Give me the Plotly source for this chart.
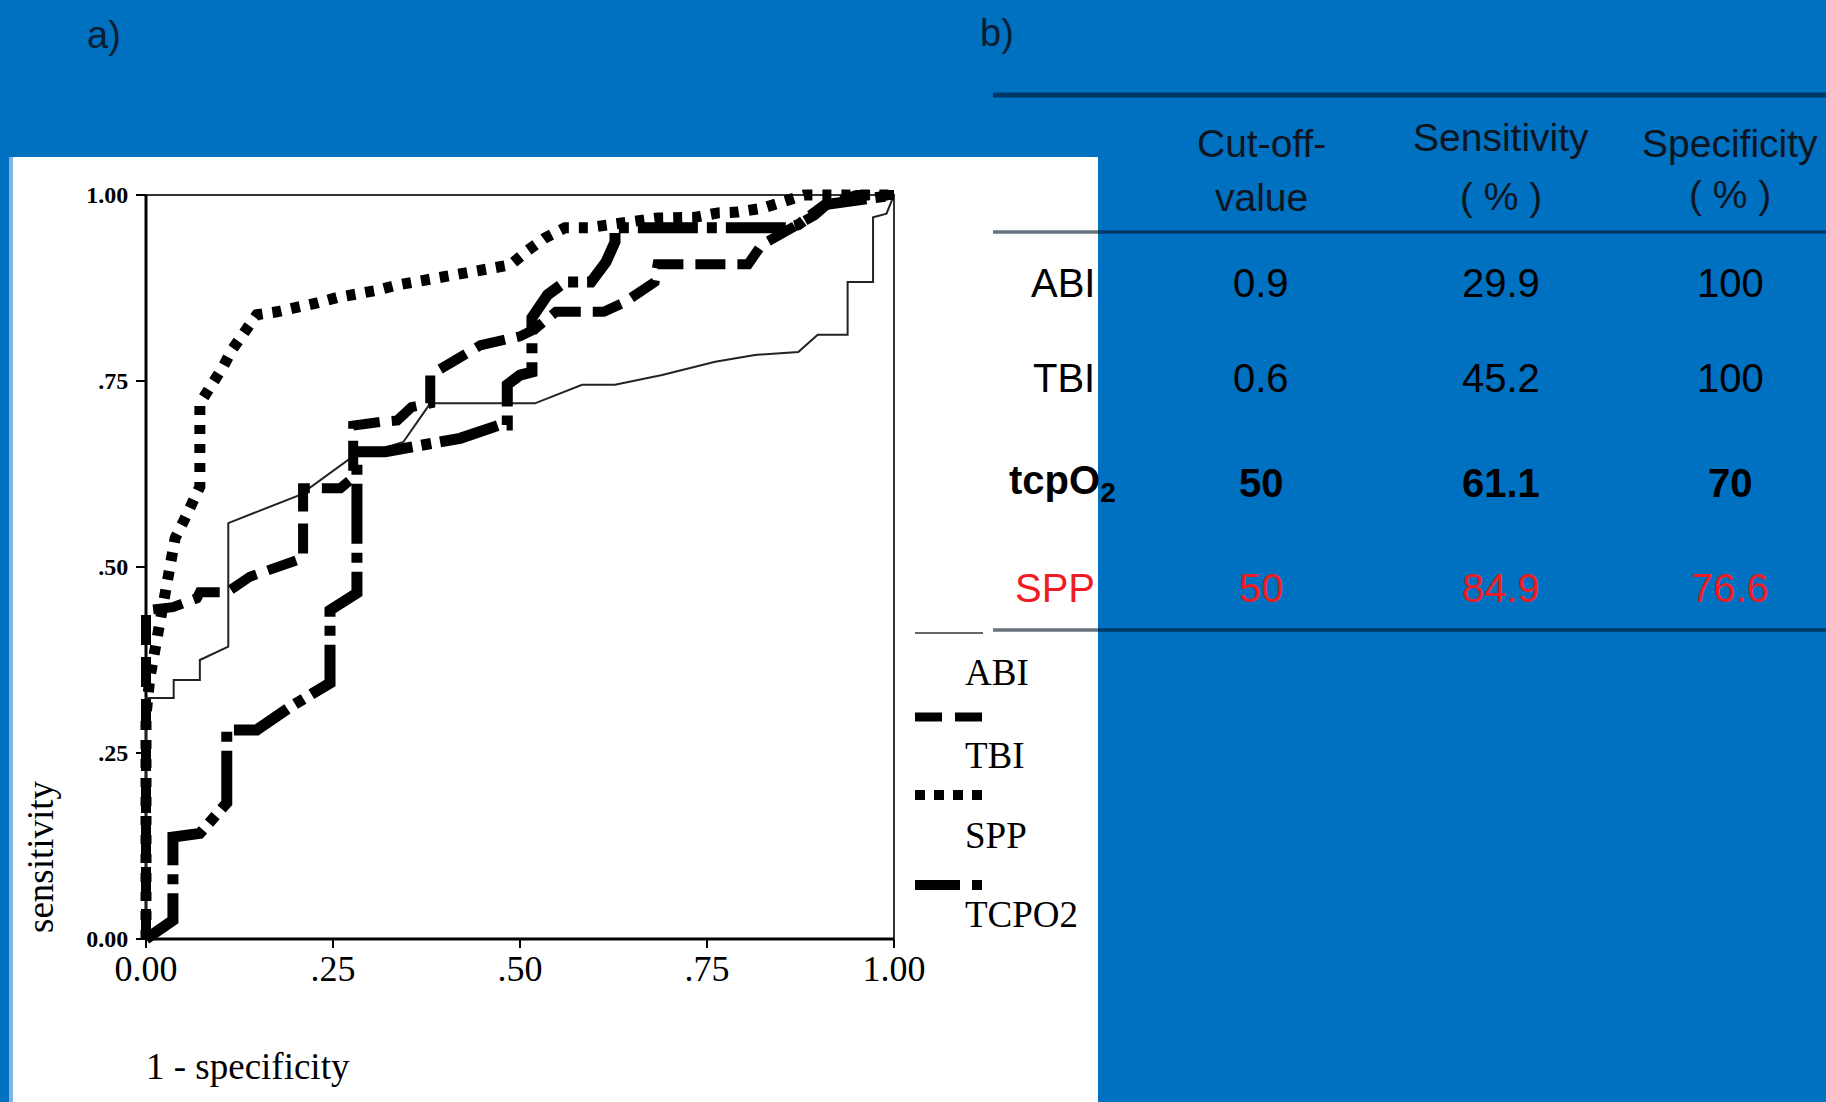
import plotly.graph_objects as go

W, H = 1826, 1102

# ---------------- data (ROC curves) ----------------
abi_x = [0, 0, 0.037, 0.037, 0.072, 0.072, 0.110, 0.110, 0.206, 0.273, 0.344, 0.38, 0.52, 0.583,
         0.627, 0.69, 0.761, 0.814, 0.872, 0.898, 0.938, 0.938, 0.972, 0.972, 0.99, 1.0]
abi_y = [0, 0.324, 0.324, 0.348, 0.348, 0.375, 0.393, 0.559, 0.597, 0.646, 0.668, 0.72, 0.72, 0.745,
         0.745, 0.758, 0.776, 0.785, 0.789, 0.812, 0.812, 0.883, 0.883, 0.97, 0.975, 1.0]

tbi_x = [0, 0, 0.036, 0.068, 0.072, 0.108, 0.139, 0.175, 0.2, 0.21, 0.21, 0.26, 0.277, 0.277,
         0.313, 0.336, 0.355, 0.38, 0.38, 0.447, 0.5, 0.52, 0.548, 0.612, 0.64, 0.68, 0.684,
         0.805, 0.823, 0.868, 0.894, 0.91, 0.95, 1.0]
tbi_y = [0, 0.442, 0.446, 0.458, 0.466, 0.466, 0.487, 0.5, 0.509, 0.512, 0.606, 0.606, 0.62, 0.69,
         0.695, 0.697, 0.715, 0.72, 0.758, 0.798, 0.81, 0.82, 0.843, 0.843, 0.856, 0.883, 0.907,
         0.907, 0.933, 0.956, 0.973, 0.987, 1.0, 1.0]

spp_x = [0, 0, 0.005, 0.01, 0.015, 0.023, 0.027, 0.032, 0.039, 0.051, 0.063, 0.072, 0.072, 0.091,
         0.103, 0.115, 0.132, 0.148, 0.175, 0.202, 0.229, 0.255, 0.282, 0.309, 0.336, 0.38, 0.433,
         0.487, 0.511, 0.533, 0.56, 0.591, 0.684, 0.734, 0.765, 0.791, 0.823, 0.85, 0.88, 1.0]
spp_y = [0, 0.30, 0.35, 0.38, 0.406, 0.462, 0.487, 0.513, 0.539, 0.563, 0.586, 0.608, 0.72, 0.747,
         0.769, 0.792, 0.816, 0.839, 0.843, 0.848, 0.855, 0.862, 0.866, 0.872, 0.879, 0.886, 0.895,
         0.906, 0.926, 0.942, 0.956, 0.956, 0.969, 0.970, 0.976, 0.977, 0.982, 0.99, 1.0, 1.0]

tcpo2_x = [0, 0.036, 0.036, 0.072, 0.108, 0.108, 0.148, 0.193, 0.246, 0.246, 0.282, 0.282, 0.32,
           0.37, 0.42, 0.473, 0.483, 0.483, 0.5, 0.516, 0.516, 0.537, 0.56, 0.595, 0.615, 0.627,
           0.627, 0.858, 0.872, 0.908, 1.0]
tcpo2_y = [0, 0.025, 0.137, 0.142, 0.183, 0.281, 0.281, 0.312, 0.344, 0.442, 0.465, 0.655, 0.655,
           0.664, 0.673, 0.691, 0.691, 0.745, 0.758, 0.762, 0.835, 0.866, 0.883, 0.883, 0.91, 0.937,
           0.956, 0.956, 0.96, 0.987, 1.0]

series_names = ["ABI", "TBI", "SPP", "TCPO2"]

x_ticks = [0, 0.25, 0.5, 0.75, 1.0]
x_tick_labels = ["0.00", ".25", ".50", ".75", "1.00"]
y_ticks = [0, 0.25, 0.5, 0.75, 1.0]
y_tick_labels = ["0.00", ".25", ".50", ".75", "1.00"]

# table
table_rows = ["ABI", "TBI", "tcpO<sub>2</sub>", "SPP"]
cutoff_vals = ["0.9", "0.6", "50", "50"]
sens_vals = ["29.9", "45.2", "61.1", "84.9"]
spec_vals = ["100", "100", "70", "76.6"]
header_line1 = ["Cut-off-", "Sensitivity", "Specificity"]
header_line2 = ["value", "( % )", "( % )"]

# ---------------- helpers ----------------
def px(x):
    return x / W

def py(y):
    return 1 - y / H

BLUE = "#0070C0"
RED = "#f01c24"
SERIF = "Liberation Serif"
SANS = "Liberation Sans"

styles = {
    "ABI": dict(color="#222222", width=2, dash="solid"),
    "TBI": dict(color="black", width=10, dash="30px,12px"),
    "SPP": dict(color="black", width=11, dash="9px,10px"),
    "TCPO2": dict(color="black", width=11, dash="60px,9px,10px,9px"),
}
legend_styles = {
    "ABI": dict(color="#666666", width=2, dash="solid"),
    "TBI": dict(color="black", width=9, dash="27px,13px"),
    "SPP": dict(color="black", width=10, dash="10px,9px"),
    "TCPO2": dict(color="black", width=10, dash="45px,12px,10px,12px"),
}
curves = {
    "ABI": (abi_x, abi_y),
    "TBI": (tbi_x, tbi_y),
    "SPP": (spp_x, spp_y),
    "TCPO2": (tcpo2_x, tcpo2_y),
}

fig = go.Figure()
for name in series_names:
    xs, ys = curves[name]
    fig.add_trace(go.Scatter(x=xs, y=ys, mode="lines", name=name,
                             line=dict(**styles[name]), showlegend=False,
                             hoverinfo="skip"))

# plot area: x 0->146px, 1->894px ; y 0->939px, 1->195px
xd0 = (146 - 0.01 * 748) / W
xd1 = (146 - 0.01 * 748 + 1.02 * 748) / W
yb = 939 + 0.01 * 744
yt = yb - 1.02 * 744

fig.update_layout(
    width=W, height=H, autosize=False,
    margin=dict(l=0, r=0, t=0, b=0, pad=0, autoexpand=False),
    paper_bgcolor=BLUE, plot_bgcolor="rgba(0,0,0,0)",
    showlegend=False,
    xaxis=dict(domain=[xd0, xd1], range=[-0.01, 1.01], anchor="free", position=py(939),
               automargin=False, showgrid=False, zeroline=False, showline=False,
               tickvals=x_ticks, ticktext=x_tick_labels, ticks="outside", ticklen=8,
               tickwidth=2, tickcolor="black", ticklabelstandoff=-10,
               tickfont=dict(family=SERIF, size=36, color="black")),
    yaxis=dict(domain=[py(yb), py(yt)], range=[-0.01, 1.01], anchor="free", position=px(146),
               automargin=False, showgrid=False, zeroline=False, showline=False,
               tickvals=y_ticks, ticktext=y_tick_labels, ticks="outside", ticklen=10,
               tickwidth=2, tickcolor="black", ticklabelstandoff=3,
               tickfont=dict(family=SERIF, size=24, color="black", weight="bold")),
)

shapes = []
# white panel and light stripe
shapes.append(dict(type="rect", xref="paper", yref="paper", x0=px(13), x1=px(1098),
                   y0=0, y1=py(157), fillcolor="white", line=dict(width=0), layer="below"))
shapes.append(dict(type="rect", xref="paper", yref="paper", x0=px(9), x1=px(13),
                   y0=0, y1=py(157), fillcolor="#7cb6e2", line=dict(width=0), layer="below"))
# plot frame
shapes.append(dict(type="rect", xref="x", yref="y", x0=0, x1=1, y0=0, y1=1,
                   line=dict(color="#333333", width=2), layer="below"))
shapes.append(dict(type="line", xref="x", yref="y", x0=0, x1=0, y0=0, y1=1,
                   line=dict(color="black", width=3), layer="below"))
shapes.append(dict(type="line", xref="x", yref="y", x0=0, x1=1, y0=0, y1=0,
                   line=dict(color="black", width=3), layer="below"))
# table rules
for yy, wdt in [(95, 5), (232, 3.5), (630, 3.5)]:
    shapes.append(dict(type="line", xref="paper", yref="paper", x0=px(993), x1=1.0,
                       y0=py(yy), y1=py(yy), line=dict(color="rgba(0,20,40,0.6)", width=wdt)))

# legend samples
legend_sample_y = [633, 717, 795, 885]
legend_text_y = [672, 755, 835, 915]
for name, sy in zip(series_names, legend_sample_y):
    shapes.append(dict(type="line", xref="paper", yref="paper", x0=px(915), x1=px(983),
                       y0=py(sy), y1=py(sy), line=dict(**legend_styles[name])))

fig.update_layout(shapes=shapes)

ann = []
for name, ty in zip(series_names, legend_text_y):
    ann.append(dict(text=name, xref="paper", yref="paper", x=px(963), y=py(ty),
                    xanchor="left", yanchor="middle", showarrow=False,
                    font=dict(family=SERIF, size=37, color="black")))

# axis titles
ann.append(dict(text="1 - specificity", xref="paper", yref="paper", x=px(144), y=py(1066),
                xanchor="left", yanchor="middle", showarrow=False,
                font=dict(family=SERIF, size=37, color="black")))
ann.append(dict(text="sensitivity", xref="paper", yref="paper", x=px(40), y=py(857),
                xanchor="center", yanchor="middle", showarrow=False, textangle=-90,
                font=dict(family=SERIF, size=37, color="black")))

# panel labels
ann.append(dict(text="a)", xref="paper", yref="paper", x=px(104), y=py(35),
                xanchor="center", yanchor="middle", showarrow=False,
                font=dict(family=SANS, size=38, color="#0b1e33")))
ann.append(dict(text="b)", xref="paper", yref="paper", x=px(997), y=py(33),
                xanchor="center", yanchor="middle", showarrow=False,
                font=dict(family=SANS, size=38, color="#0b1e33")))

# table header
col_x = [1261, 1501, 1730]
hdr1_y = [143, 137, 143]
hdr2_y = [197, 196, 195]
for cx, t1, y1, t2, y2 in zip(col_x, header_line1, hdr1_y, header_line2, hdr2_y):
    ann.append(dict(text=t1, xref="paper", yref="paper", x=px(cx), y=py(y1),
                    xanchor="center", yanchor="middle", showarrow=False,
                    font=dict(family=SANS, size=39, color="#0d1620")))
    ann.append(dict(text=t2, xref="paper", yref="paper", x=px(cx), y=py(y2),
                    xanchor="center", yanchor="middle", showarrow=False,
                    font=dict(family=SANS, size=39, color="#0d1620")))

# table body
row_y = [283, 378, 483, 588]
for i, (lab, c, s, p) in enumerate(zip(table_rows, cutoff_vals, sens_vals, spec_vals)):
    color = RED if lab == "SPP" else "black"
    weight = "bold" if lab.startswith("tcp") else "normal"
    lab_x = 1118 if lab.startswith("tcp") else 1097
    ann.append(dict(text=lab, xref="paper", yref="paper", x=px(lab_x), y=py(row_y[i]),
                    xanchor="right", yanchor="middle", showarrow=False,
                    font=dict(family=SANS, size=40, color=color, weight=weight)))
    for cx, v in zip(col_x, [c, s, p]):
        ann.append(dict(text=v, xref="paper", yref="paper", x=px(cx), y=py(row_y[i]),
                        xanchor="center", yanchor="middle", showarrow=False,
                        font=dict(family=SANS, size=40, color=color, weight=weight)))

fig.update_layout(annotations=ann)

fig.write_html("out.html", config={"displayModeBar": False},
               post_script="document.body.style.margin='0';document.body.style.overflow='hidden';")
